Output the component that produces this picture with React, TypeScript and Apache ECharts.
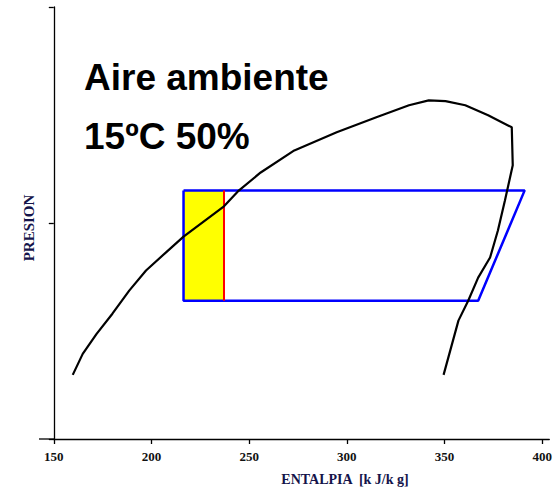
import React, { useEffect, useRef } from "react";
import * as echarts from "echarts";

// Saturation dome (enthalpy kJ/kg, relative pressure)
const domeH = [159.7, 164.8, 171.9, 180.0, 188.6, 197.2, 207.3, 216.4, 237.1, 244.2, 255.9, 273.1, 294.8, 315.1, 331.8, 341.9, 350.5, 360.6, 372.3, 384.4, 384.9, 383.4, 380.9, 377.3, 373.3, 367.2, 362.1, 357.1, 349.5];
const domeP = [0.297, 0.394, 0.487, 0.58, 0.687, 0.78, 0.863, 0.937, 1.077, 1.146, 1.234, 1.336, 1.42, 1.49, 1.545, 1.568, 1.564, 1.545, 1.499, 1.443, 1.267, 1.206, 1.104, 0.965, 0.84, 0.747, 0.64, 0.548, 0.297];

// Refrigeration cycle
const cycleH = [216.4, 391.0, 367.2, 216.4, 216.4];
const cycleP = [1.151, 1.151, 0.64, 0.64, 1.151];

// Red line / yellow zone
const redH = 237.1;
const highP = 1.151;
const lowP = 0.64;
const zoneLeftH = 216.4;

const xTicks = { min: 150, max: 403.6, interval: 50 };
const yTicks = { min: 0, max: 2, interval: 1 };

const titleLines = ["Aire ambiente", "15ºC 50%"];
const xName = "ENTALPIA  [k J/k g]";
const yName = "PRESION";

export default function App() {
  const ref = useRef<HTMLDivElement>(null);
  useEffect(() => {
    if (!ref.current) return;
    const chart = echarts.init(ref.current, undefined, { renderer: "svg" });
    const zip = (a: number[], b: number[]) => a.map((v, i) => [v, b[i]]);
    chart.setOption({
      animation: false,
      backgroundColor: "#ffffff",
      grid: { left: 53.8, right: 0, top: 7, bottom: 54, containLabel: false },
      xAxis: {
        type: "value",
        min: xTicks.min,
        max: xTicks.max,
        interval: xTicks.interval,
        axisLine: { show: true, lineStyle: { color: "#000", width: 1.3 } },
        axisTick: { show: true, length: 5, lineStyle: { color: "#000", width: 1.3 } },
        splitLine: { show: false },
        axisLabel: {
          color: "#111",
          fontFamily: "Liberation Serif",
          fontWeight: "bold",
          fontSize: 13,
          margin: 11,
        },
      },
      yAxis: {
        type: "value",
        min: yTicks.min,
        max: yTicks.max,
        interval: yTicks.interval,
        axisLine: { show: true, lineStyle: { color: "#000", width: 1.3 } },
        axisTick: { show: true, length: 5, lineStyle: { color: "#000", width: 1.3 } },
        splitLine: { show: false },
        axisLabel: { show: false },
      },
      graphic: [
        {
          type: "line",
          shape: { x1: 39, y1: 439, x2: 54, y2: 439 },
          style: { stroke: "#000", lineWidth: 1.3 },
        },
        {
          type: "text",
          x: 84,
          y: 77,
          style: {
            text: titleLines[0],
            font: "bold 37px 'Liberation Sans', Arial, sans-serif",
            fill: "#000",
            verticalAlign: "middle",
          },
        },
        {
          type: "text",
          x: 84,
          y: 136,
          style: {
            text: titleLines[1],
            font: "bold 37px 'Liberation Sans', Arial, sans-serif",
            fill: "#000",
            verticalAlign: "middle",
          },
        },
        {
          type: "text",
          x: 345,
          y: 479,
          style: {
            text: xName,
            font: "bold 14px 'Liberation Serif', serif",
            fill: "#14144a",
            align: "center",
            verticalAlign: "middle",
          },
        },
        {
          type: "text",
          x: 29,
          y: 228,
          rotation: Math.PI / 2,
          style: {
            text: yName,
            font: "bold 15px 'Liberation Serif', serif",
            fill: "#14144a",
            align: "center",
            verticalAlign: "middle",
          },
        },
      ],
      series: [
        {
          type: "line",
          data: zip(cycleH, cycleP),
          showSymbol: false,
          symbol: "none",
          lineStyle: { color: "#0000ff", width: 2.5 },
          z: 3,
          markArea: {
            silent: true,
            itemStyle: { color: "#ffff00", opacity: 1 },
            data: [[{ xAxis: zoneLeftH, yAxis: highP }, { xAxis: redH, yAxis: lowP }]],
          },
        },
        {
          type: "line",
          data: [
            [redH, highP],
            [redH, lowP],
          ],
          symbol: "none",
          lineStyle: { color: "#ff0000", width: 2 },
          z: 4,
        },
        {
          type: "line",
          data: zip(domeH, domeP),
          symbol: "none",
          lineStyle: { color: "#000", width: 2.2 },
          z: 5,
        },
      ],
    });
    return () => chart.dispose();
  }, []);
  return (
    <div
      ref={ref}
      style={{ position: "fixed", left: 0, top: 0, width: 555, height: 493, background: "#fff" }}
    />
  );
}
